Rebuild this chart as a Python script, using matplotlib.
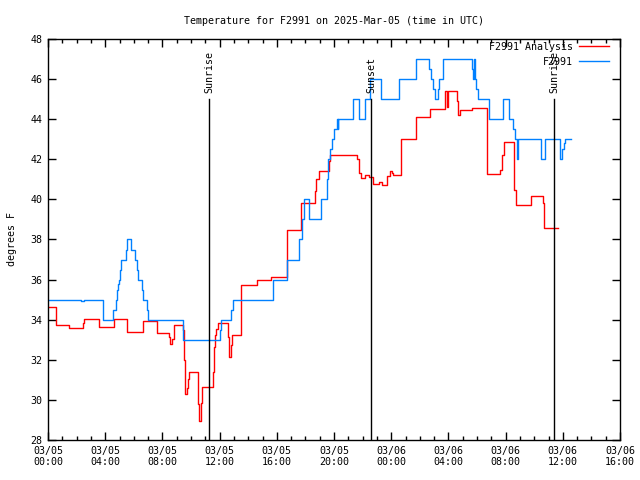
import matplotlib
matplotlib.use("Agg")
import matplotlib.pyplot as plt
from matplotlib.ticker import MultipleLocator

# hours since 2025-03-05 00:00 UTC, step series
analysis_t = [0.0, 0.56, 1.49, 2.47, 2.55, 3.54, 4.62, 5.55, 6.62, 7.6, 8.49, 8.55,
              8.7, 8.78, 9.46, 9.5, 9.6, 9.74, 9.8, 9.86, 10.49, 10.53, 10.72, 10.78,
              11.52, 11.58, 11.67, 11.77, 11.9, 12.59, 12.63, 12.77, 12.87, 13.52,
              14.64, 15.62, 16.69, 17.67, 18.65, 18.74, 18.93, 19.63, 19.72, 21.58,
              21.72, 21.86, 22.19, 22.45, 22.7, 23.17, 23.35, 23.73, 23.92, 24.06,
              24.15, 24.7, 25.7, 26.7, 27.75, 27.9, 27.97, 28.63, 28.7, 28.8, 29.65,
              30.68, 31.62, 31.75, 31.9, 32.6, 32.72, 33.75, 34.6, 34.7, 35.66]
analysis_v = [34.62, 33.72, 33.6, 33.82, 34.02, 33.62, 34.02, 33.39, 33.92, 33.32, 33.15, 32.79,
              33.02, 33.72, 33.49, 31.99, 30.29, 30.58, 31.06, 31.39, 29.8, 28.93, 29.83, 30.63,
              31.39, 32.65, 33.25, 33.55, 33.82, 33.15, 32.15, 32.72, 33.22, 35.71,
              35.98, 36.15, 38.47, 39.8, 40.43, 41.03, 41.4, 41.93, 42.23, 42.0,
              41.3, 41.07, 41.2, 41.13, 40.77, 40.87, 40.7, 41.17, 41.4, 41.33,
              41.24, 43.0, 44.09, 44.52, 45.42, 44.59, 45.42, 44.92, 44.22, 44.46, 44.55,
              41.27, 41.47, 42.2, 42.88, 40.47, 39.74, 40.17, 39.8, 38.57, 38.57]

obs_t = [0.0, 2.28, 2.5, 3.87, 4.57, 4.76, 4.85, 4.9, 4.94, 5.03, 5.13, 5.45, 5.55,
         5.78, 6.11, 6.2, 6.29, 6.58, 6.67, 6.9, 6.99, 9.46, 12.03, 12.1, 12.82, 12.91,
         15.76, 16.74, 17.58, 17.77, 17.9, 18.27, 19.06, 19.49, 19.58, 19.7, 19.86,
         20.0, 20.19, 20.25, 20.3, 21.35, 21.77, 22.19, 22.52, 23.26, 24.55, 25.7,
         26.65, 26.76, 26.94, 27.08, 27.27, 27.36, 27.59, 29.65, 29.72, 29.82, 29.86,
         29.92, 30.06, 30.82, 31.8, 32.22, 32.54, 32.63, 32.78, 32.88, 34.45, 34.73,
         35.8, 35.94, 36.08, 36.13, 36.6]
obs_v = [35.0, 34.93, 35.0, 34.0, 34.5, 35.0, 35.5, 35.8, 36.0, 36.5, 37.0, 37.5, 38.0,
         37.5, 37.0, 36.5, 36.0, 35.5, 35.0, 34.5, 34.0, 33.0, 33.5, 34.0, 34.5, 35.0,
         36.0, 37.0, 38.0, 39.0, 40.0, 39.0, 40.0, 41.0, 42.0, 42.5, 43.0,
         43.5, 44.0, 43.5, 44.0, 45.0, 44.0, 45.0, 46.0, 45.0, 46.0, 47.0,
         46.5, 46.0, 45.5, 45.0, 45.5, 46.0, 47.0, 46.5, 46.0, 47.0, 46.0,
         45.5, 45.0, 44.0, 45.0, 44.0, 43.5, 43.0, 42.0, 43.0, 42.0, 43.0,
         42.0, 42.5, 42.8, 43.0, 43.0]

sun_t = [11.28, 22.61, 35.38]
sun_labels = ["Sunrise", "Sunset", "Sunrise"]

tick_hours = list(range(0, 41, 4))
tick_labels = ["03/05\n00:00", "03/05\n04:00", "03/05\n08:00", "03/05\n12:00",
               "03/05\n16:00", "03/05\n20:00", "03/06\n00:00", "03/06\n04:00",
               "03/06\n08:00", "03/06\n12:00", "03/06\n16:00"]

plt.rcParams['font.family'] = 'DejaVu Sans Mono'
plt.rcParams['font.size'] = 7.2

fig = plt.figure(figsize=(6.4, 4.8), dpi=100)
ax = fig.add_axes([48 / 640, 40 / 480, 572 / 640, 401 / 480])

ax.plot(analysis_t, analysis_v, drawstyle='steps-post', color='#ff0000', lw=1.0,
        label='F2991 Analysis')
ax.plot(obs_t, obs_v, drawstyle='steps-post', color='#0080ff', lw=1.0, label='F2991')

for t, lab in zip(sun_t, sun_labels):
    ax.plot([t, t], [28, 45], color='black', lw=1.0)
    ax.text(t, 45.3, lab, rotation=90, ha='center', va='bottom')

ax.set_xlim(0, 40)
ax.set_ylim(28, 48)
ax.set_xticks(tick_hours)
ax.set_xticklabels(tick_labels)
ax.xaxis.set_minor_locator(MultipleLocator(1))
ax.yaxis.set_major_locator(MultipleLocator(2))
ax.tick_params(which='both', direction='in', top=True, right=True, width=1.0)
ax.tick_params(which='major', length=6, pad=4)
ax.tick_params(which='minor', length=3)
for s in ax.spines.values():
    s.set_linewidth(1.0)

ax.set_title('Temperature for F2991 on 2025-Mar-05 (time in UTC)', fontsize=7.2, pad=11)
ax.set_ylabel('degrees F', labelpad=10)
ax.legend(loc='upper right', bbox_to_anchor=(1 - 5 / 572, 1 + 3 / 401), frameon=False,
          markerfirst=False, handlelength=3.0, borderaxespad=0.2, labelspacing=0.5,
          handletextpad=0.6)

fig.savefig('out.png', dpi=100)
